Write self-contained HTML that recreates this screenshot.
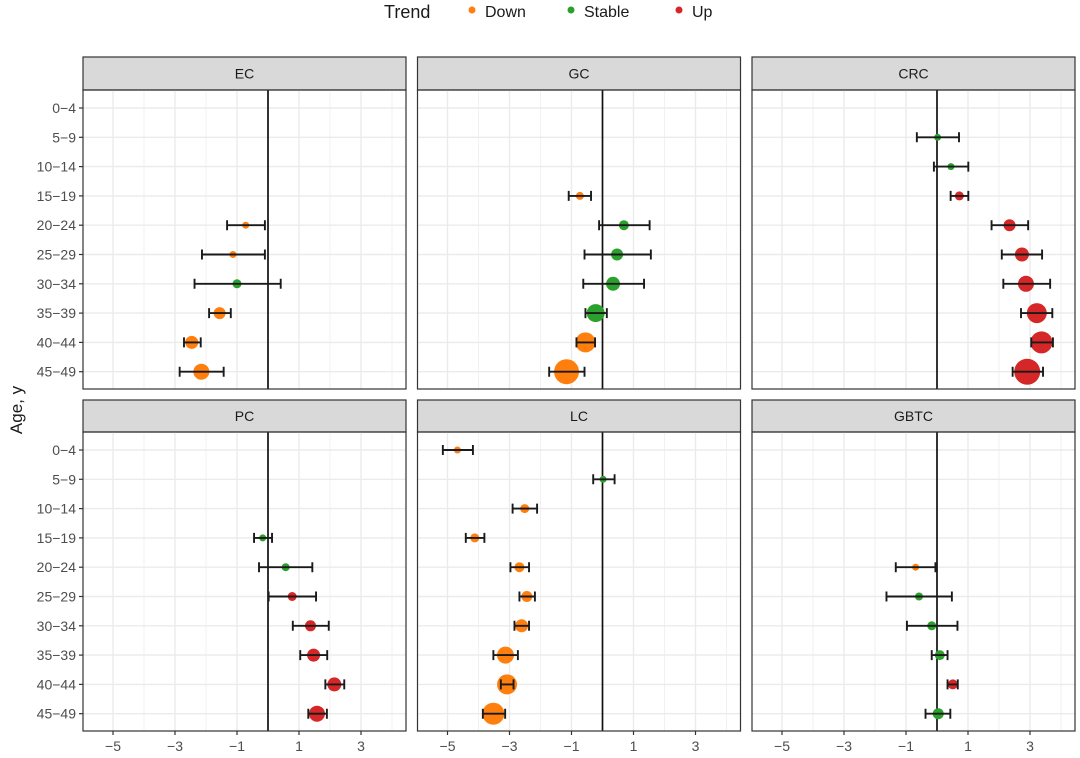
<!DOCTYPE html>
<html><head><meta charset="utf-8"><style>
html,body{margin:0;padding:0;background:#fff;}
svg{display:block;font-family:"Liberation Sans",Arial,sans-serif;}
</style></head><body>
<svg id="chart" width="1080" height="758" viewBox="0 0 1080 758"></svg>
<script>
const ages = ["0−4","5−9","10−14","15−19","20−24","25−29","30−34","35−39","40−44","45−49"];
const xTicks = [-5,-3,-1,1,3];
const panelNames = ["EC","GC","CRC","PC","LC","GBTC"];
// per-panel data: row index, estimate, lower, upper, trend, point radius
const ecRow=[4,5,6,7,8,9], ecEst=[-0.72,-1.13,-1.0,-1.56,-2.46,-2.15], ecLo=[-1.32,-2.13,-2.37,-1.9,-2.71,-2.85], ecHi=[-0.1,-0.1,0.41,-1.2,-2.17,-1.43], ecTrend=["D","D","S","D","D","D"], ecSize=[3.5,3.5,4.5,6,6.5,8];
const gcRow=[3,4,5,6,7,8,9], gcEst=[-0.73,0.69,0.47,0.34,-0.22,-0.55,-1.16], gcLo=[-1.09,-0.11,-0.58,-0.62,-0.55,-0.84,-1.72], gcHi=[-0.37,1.52,1.56,1.34,0.14,-0.24,-0.58], gcTrend=["D","S","S","S","S","D","D"], gcSize=[4,5,6,7,9,10,12.5];
const crcRow=[1,2,3,4,5,6,7,8,9], crcEst=[0.02,0.45,0.72,2.34,2.74,2.87,3.22,3.37,2.91], crcLo=[-0.65,-0.1,0.44,1.76,2.09,2.14,2.71,3.04,2.44], crcHi=[0.71,1.01,1.01,2.94,3.39,3.65,3.72,3.74,3.42], crcTrend=["S","S","U","U","U","U","U","U","U"], crcSize=[3.5,3.5,4.5,6,7,8,10,11,13];
const pcRow=[3,4,5,6,7,8,9], pcEst=[-0.17,0.57,0.78,1.37,1.47,2.14,1.58], pcLo=[-0.45,-0.29,0.02,0.8,1.04,1.85,1.3], pcHi=[0.13,1.43,1.55,1.96,1.91,2.46,1.9], pcTrend=["S","S","U","U","U","U","U"], pcSize=[3.5,4,4.5,5.5,6.5,7,8];
const lcRow=[0,1,2,3,4,5,6,7,8,9], lcEst=[-4.68,0.02,-2.51,-4.12,-2.68,-2.44,-2.61,-3.13,-3.08,-3.52], lcLo=[-5.15,-0.3,-2.9,-4.41,-2.97,-2.68,-2.84,-3.52,-3.28,-3.86], lcHi=[-4.18,0.39,-2.11,-3.81,-2.37,-2.18,-2.37,-2.73,-2.87,-3.14], lcTrend=["D","S","D","D","D","D","D","D","D","D"], lcSize=[3.5,3.5,4.5,4.5,5,5.5,6.5,8.5,10,11];
const gbRow=[4,5,6,7,8,9], gbEst=[-0.69,-0.58,-0.17,0.09,0.51,0.04], gbLo=[-1.33,-1.63,-0.97,-0.17,0.34,-0.37], gbHi=[-0.05,0.48,0.66,0.34,0.67,0.43], gbTrend=["D","S","S","S","U","S"], gbSize=[3.5,4,4.5,5,5,5.5];

const colors={D:"#ff7f0e",S:"#2ca02c",U:"#d62728"};
const panels=[
 {row:ecRow,est:ecEst,lo:ecLo,hi:ecHi,tr:ecTrend,sz:ecSize},
 {row:gcRow,est:gcEst,lo:gcLo,hi:gcHi,tr:gcTrend,sz:gcSize},
 {row:crcRow,est:crcEst,lo:crcLo,hi:crcHi,tr:crcTrend,sz:crcSize},
 {row:pcRow,est:pcEst,lo:pcLo,hi:pcHi,tr:pcTrend,sz:pcSize},
 {row:lcRow,est:lcEst,lo:lcLo,hi:lcHi,tr:lcTrend,sz:lcSize},
 {row:gbRow,est:gbEst,lo:gbLo,hi:gbHi,tr:gbTrend,sz:gbSize}];
const svg=document.getElementById('chart');
const NS="http://www.w3.org/2000/svg";
function mk(tag,attrs,parent){const e=document.createElementNS(NS,tag);for(const k in attrs)e.setAttribute(k,attrs[k]);(parent||svg).appendChild(e);return e;}
const lefts=[83,417.5,752], W=323, UNIT=31, ZOFF=185;
const tops=[90,432], H=299, strips=[57,400];
function xs(p,v){return lefts[p%3]+ZOFF+v*UNIT;}
function ys(p,i){return tops[Math.floor(p/3)]+18+i*29.3;}

// legend
let t=mk('text',{x:384,y:18,'font-size':18,fill:'#1a1a1a'});t.textContent="Trend";

const legItems=[["Down","D",472],["Stable","S",571],["Up","U",679]];
legItems.forEach(l=>{
 const g=mk('g',{});
 
 
 mk('circle',{cx:l[2],cy:10,r:3.5,fill:colors[l[1]]},g);
 const tt=mk('text',{x:l[2]+13,y:17,'font-size':16,fill:'#1a1a1a'},g);tt.textContent=l[0];
});
// y axis title
t=mk('text',{x:0,y:0,'font-size':17,fill:'#1a1a1a','text-anchor':'middle',transform:'translate(22,410) rotate(-90)'});
t.textContent="Age, y";


panels.forEach((d,p)=>{
 const L=lefts[p%3], T=tops[Math.floor(p/3)], S=strips[Math.floor(p/3)];
 const g=mk('g',{});
 
 
 // strip
 mk('rect',{x:L,y:S,width:W,height:T-S,fill:'#d9d9d9',stroke:'#333','stroke-width':1.2},g);
 const st=mk('text',{x:L+W/2,y:S+(T-S)/2+5,'font-size':14,fill:'#1a1a1a','text-anchor':'middle'},g);st.textContent=panelNames[p];
 
 // grid
 for(let v=-5;v<=4;v++){mk('line',{x1:xs(p,v),x2:xs(p,v),y1:T,y2:T+H,stroke:'#ebebeb','stroke-width':(v%2?1.4:0.7)},g);}
 ages.forEach((a,i)=>mk('line',{x1:L,x2:L+W,y1:ys(p,i),y2:ys(p,i),stroke:'#ebebeb','stroke-width':1.4},g));
 // zero line
 mk('line',{x1:xs(p,0),x2:xs(p,0),y1:T,y2:T+H,stroke:'#111','stroke-width':1.7},g);
 // points
 d.row.forEach((r,k)=>{
  const y=ys(p,r);
  const c=mk('circle',{cx:xs(p,d.est[k]),cy:y,r:d.sz[k],fill:colors[d.tr[k]]},g);
  
  
  const x1=xs(p,d.lo[k]),x2=xs(p,d.hi[k]);
  const eb=mk('path',{d:`M${x1},${y}H${x2}M${x1},${y-5}V${y+5}M${x2},${y-5}V${y+5}`,stroke:'#1a1a1a','stroke-width':1.9,fill:'none'},g);
  
  
 });
 mk('rect',{x:L,y:T,width:W,height:H,fill:'none',stroke:'#333','stroke-width':1.2},g);
 // y axis labels (left column)
 if(p%3===0){ages.forEach((a,i)=>{
  mk('line',{x1:L-4,x2:L,y1:ys(p,i),y2:ys(p,i),stroke:'#333','stroke-width':1.2},g);
  const yt=mk('text',{x:L-7,y:ys(p,i)+5,'font-size':14,fill:'#4d4d4d','text-anchor':'end'},g);yt.textContent=a;
  
 });}
 // x axis (bottom row)
 if(p>=3){xTicks.forEach(v=>{
  mk('line',{x1:xs(p,v),x2:xs(p,v),y1:T+H,y2:T+H+4,stroke:'#333','stroke-width':1.2},g);
  const xt=mk('text',{x:xs(p,v),y:T+H+20,'font-size':14,fill:'#4d4d4d','text-anchor':'middle'},g);xt.textContent=(v<0?'−'+(-v):v);
  
 });}
});
</script>
</body></html>
